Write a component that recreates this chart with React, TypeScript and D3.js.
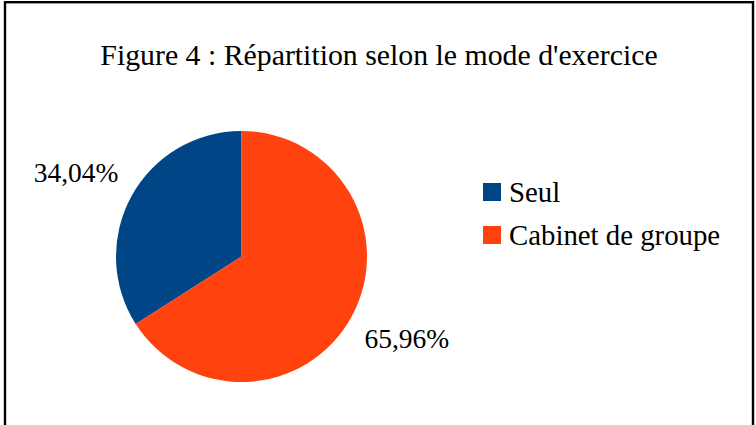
import React from "react";
import * as d3 from "d3";

const categories = ["Seul", "Cabinet de groupe"];
const values = [34.04, 65.96];
const labels = ["34,04%", "65,96%"];
const colors = ["#004586", "#ff420e"];
const title = "Figure 4 : Répartition selon le mode d'exercice";

const W = 756;
const H = 425;
const FONT = "'Liberation Serif', 'Times New Roman', Times, serif";

export default function App() {
  const cx = 241.5;
  const cy = 256.5;
  const r = 125.5;

  const pie = d3
    .pie<number>()
    .sort(null)
    .startAngle(0)
    .endAngle(-2 * Math.PI);
  const arcs = pie(values);
  const arc = d3.arc<d3.PieArcDatum<number>>().innerRadius(0).outerRadius(r);
  const labelR = 185;
  const labelRot = (-2.1 * Math.PI) / 180;

  return (
    <svg
      width={W}
      height={H}
      style={{ position: "absolute", left: 0, top: 0, background: "#fff" }}
    >
      <rect x={0} y={0} width={W} height={H} fill="#fff" />
      <rect
        x={5}
        y={2.2}
        width={748}
        height={500}
        fill="none"
        stroke="#000"
        strokeWidth={2.4}
      />
      <text
        x={379}
        y={65}
        textAnchor="middle"
        fontFamily={FONT}
        fontSize={29.8}
        fill="#000"
      >
        {title}
      </text>
      <g transform={`translate(${cx},${cy})`}>
        {arcs.map((a, i) => (
          <path key={i} d={arc(a) || ""} fill={colors[i]} />
        ))}
        {arcs.map((a, i) => {
          const mid = (a.startAngle + a.endAngle) / 2 + labelRot;
          const x = labelR * Math.sin(mid);
          const y = -labelR * Math.cos(mid);
          return (
            <text
              key={"l" + i}
              x={x}
              y={y}
              dy="0.31em"
              textAnchor="middle"
              fontFamily={FONT}
              fontSize={27.5}
              fill="#000"
            >
              {labels[i]}
            </text>
          );
        })}
      </g>
      <g>
        {categories.map((c, i) => (
          <g key={c} transform={`translate(483,${183 + i * 43})`}>
            <rect x={0} y={0} width={18} height={18} fill={colors[i]} />
            <text
              x={26}
              y={18.5}
              fontFamily={FONT}
              fontSize={28.8}
              fill="#000"
            >
              {c}
            </text>
          </g>
        ))}
      </g>
    </svg>
  );
}
